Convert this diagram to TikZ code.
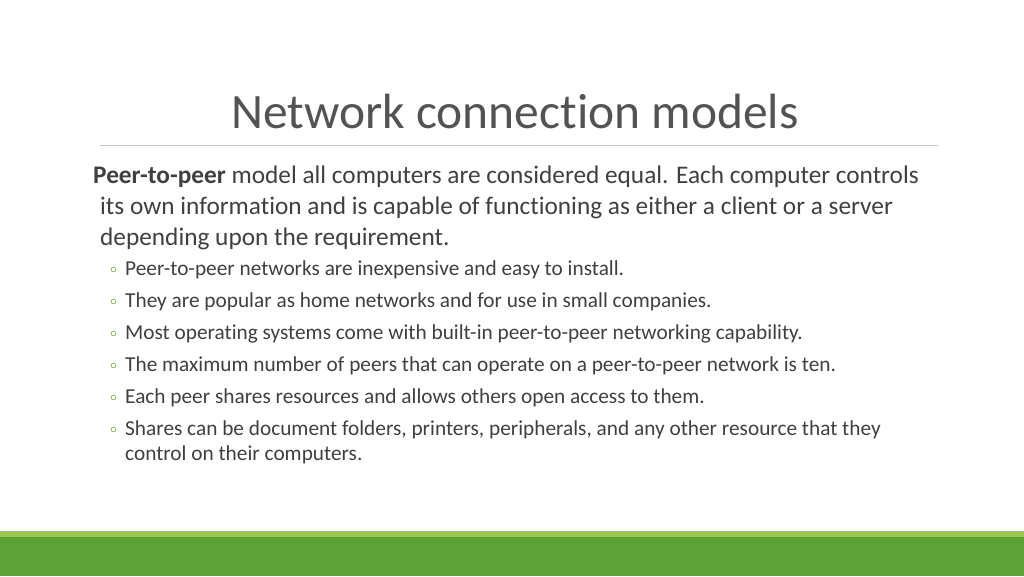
\documentclass[tikz,border=0pt]{standalone}
\usepackage{fontspec}
\setmainfont[RawFeature=-liga]{Carlito}
\definecolor{txt}{HTML}{404040}
\definecolor{lgreen}{HTML}{9BC850}
\definecolor{dgreen}{HTML}{5EA136}
\definecolor{bul}{HTML}{8CB85A}
\begin{document}
\begin{tikzpicture}[x=1pt,y=-1pt,
  body/.style={anchor=base west,inner sep=0pt,text=txt,font=\fontsize{25.3}{30}\selectfont},
  sub/.style={anchor=base west,inner sep=0pt,text=txt,font=\fontsize{21.3}{25}\selectfont},
  bl/.style={draw=bul,line width=0.7pt}]
\useasboundingbox (0,0) rectangle (1024,576);
\fill[white] (0,0) rectangle (1024,576);
\node[anchor=base,inner sep=0pt,text=txt!90,font=\fontsize{49.5}{54}\selectfont] (title) at (515,128) {Network connection models};
\draw[gray!45,line width=0.8pt] (100,145) -- (938,145);
\node[body] (p1) at (93,183) {\textbf{Peer-to-peer} model all computers are considered equal. Each computer controls};
\node[body] (p2) at (100,214) {its own information and is capable of functioning as either a client or a server};
\node[body] (p3) at (100,245) {depending upon the requirement.};
\foreach \y/\t [count=\i] in {
 275/{Peer-to-peer networks are inexpensive and easy to install.},
 307/{They are popular as home networks and for use in small companies.},
 339/{Most operating systems come with built-in peer-to-peer networking capability.},
 371/{The maximum number of peers that can operate on a peer-to-peer network is ten.},
 403/{Each peer shares resources and allows others open access to them.},
 435/{Shares can be document folders, printers, peripherals, and any other resource that they}}{
 \draw[bl] (113.5,\y-5.5) circle (2.4);
 \node[sub] (b\i) at (125,\y) {\t};
}
\node[sub] (b7) at (125,460) {control on their computers.};
\fill[lgreen] (0,531) rectangle (1024,537);
\fill[dgreen] (0,537) rectangle (1024,576);
\end{tikzpicture}
\end{document}
